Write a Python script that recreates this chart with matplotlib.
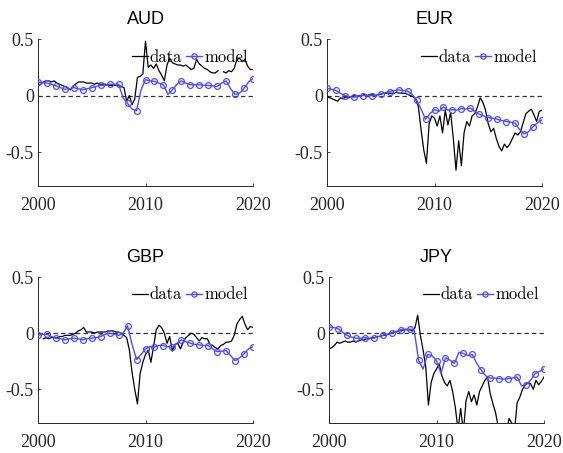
import numpy as np
import matplotlib
matplotlib.use("Agg")
import matplotlib.pyplot as plt

plt.rcParams['axes.unicode_minus'] = False

# quarterly data, 2000.00 .. 2020.00
t_data = 2000 + np.arange(81) * 0.25
# model, every 5 months, marker on every second point
t_model = 2000 + np.arange(49) * 5 / 12.0

nan = np.nan

aud_data = [0.08, 0.10, 0.12, 0.13, 0.13, 0.12, 0.13, 0.11, 0.10, 0.09,
            0.08, 0.07, 0.05, 0.08, 0.10, 0.12, 0.12, 0.12, 0.11, 0.11,
            0.11, 0.10, 0.11, 0.10, 0.10, 0.10, 0.09, 0.09, 0.09, 0.09,
            0.09, 0.08, 0.07, -0.05, 0.00, -0.08, -0.03, 0.16, 0.17, 0.19,
            0.48, 0.25, 0.27, 0.24, 0.28, 0.22, 0.18, 0.13, 0.27, 0.33,
            0.29, 0.28, 0.27, 0.27, 0.26, 0.27, 0.25, 0.23, 0.24, 0.32,
            0.28, 0.26, 0.24, 0.23, 0.21, 0.20, 0.20, 0.22, nan, 0.21,
            0.20, 0.22, 0.21, 0.24, 0.32, 0.33, 0.30, 0.32, 0.26, 0.23,
            0.23]
aud_model = [0.12, 0.115, 0.11, 0.10, 0.085, 0.07, 0.055, 0.06, 0.07, 0.06,
             0.05, 0.06, 0.07, 0.08, 0.09, 0.09, 0.10, 0.10, 0.10, -0.02,
             -0.07, -0.12, -0.135, 0.05, 0.14, 0.13, 0.125, 0.11, 0.095, 0.01,
             0.05, 0.10, 0.13, 0.11, 0.095, 0.095, 0.095, 0.09, 0.09, 0.085,
             0.08, 0.11, 0.13, 0.06, 0.01, 0.02, 0.065, 0.12, 0.15]

eur_data = [-0.01, -0.02, -0.03, -0.04, -0.05, -0.02, -0.03, -0.01, -0.02, -0.01,
            0.00, -0.01, 0.00, 0.00, 0.01, 0.00, 0.01, 0.01, 0.00, 0.01,
            0.01, 0.02, 0.02, 0.02, 0.02, 0.02, 0.03, 0.02, 0.02, 0.02,
            0.01, 0.00, -0.01, -0.03, -0.10, -0.30, -0.48, -0.60, -0.25, -0.18,
            -0.20, -0.27, -0.18, -0.33, -0.13, -0.26, -0.15, -0.38, -0.66, -0.40,
            -0.62, -0.33, -0.23, -0.27, -0.18, -0.16, -0.10, -0.02, -0.06, -0.13,
            -0.25, -0.32, -0.29, -0.38, -0.45, -0.49, -0.43, -0.46, -0.43, -0.38,
            -0.33, -0.35, -0.32, -0.24, -0.16, -0.14, -0.12, -0.17, -0.23, -0.14,
            -0.13]
eur_model = [0.065, 0.055, 0.045, 0.02, 0.0, -0.01, -0.015, -0.005, 0.0, 0.0,
             0.0, 0.005, 0.015, 0.025, 0.035, 0.045, 0.05, 0.045, 0.04, 0.01,
             -0.04, -0.12, -0.21, -0.16, -0.125, -0.14, -0.10, -0.13, -0.125, -0.13,
             -0.115, -0.12, -0.11, -0.14, -0.165, -0.18, -0.195, -0.20, -0.21, -0.22,
             -0.23, -0.235, -0.245, -0.30, -0.34, -0.32, -0.275, -0.24, -0.215]

gbp_data = [nan, nan, -0.05, -0.04, -0.05, -0.04, -0.04, -0.04, -0.03, -0.03,
            -0.02, -0.02, -0.02, -0.01, 0.00, 0.02, 0.03, 0.05, 0.01, 0.01,
            0.01, 0.00, 0.01, 0.01, 0.01, 0.01, 0.02, 0.02, 0.02, 0.01,
            0.01, 0.00, -0.02, -0.04, -0.15, -0.35, -0.50, -0.63, -0.36, -0.26,
            -0.19, -0.15, -0.26, -0.12, 0.03, 0.07, 0.05, 0.00, -0.09, -0.03,
            -0.16, -0.10, -0.09, -0.14, -0.08, -0.04, -0.02, 0.00, -0.01, -0.04,
            -0.07, -0.04, -0.05, -0.05, -0.10, -0.11, -0.13, -0.14, -0.11, -0.10,
            -0.08, -0.08, -0.07, -0.02, 0.08, 0.12, 0.15, 0.08, 0.03, 0.06,
            0.05]
gbp_model = [-0.02, -0.01, -0.01, -0.03, -0.045, -0.05, -0.06, -0.05, -0.045, -0.05,
             -0.06, -0.05, -0.045, -0.04, -0.03, -0.01, 0.0, -0.01, -0.02, 0.0,
             0.065, -0.10, -0.235, -0.19, -0.14, -0.12, -0.125, -0.11, -0.11, -0.12,
             -0.125, -0.09, -0.06, -0.075, -0.09, -0.10, -0.105, -0.11, -0.11, -0.14,
             -0.165, -0.16, -0.155, -0.20, -0.245, -0.22, -0.185, -0.14, -0.12]

jpy_data = [-0.14, -0.13, -0.11, -0.08, -0.09, -0.08, -0.07, -0.08, -0.08, -0.07,
            -0.08, -0.07, -0.06, -0.06, -0.05, -0.05, -0.04, -0.04, -0.03, -0.03,
            -0.02, -0.02, -0.01, 0.00, 0.01, 0.01, 0.02, 0.02, 0.03, 0.03,
            0.03, 0.02, 0.05, 0.16, -0.02, -0.15, -0.30, -0.64, -0.44, -0.36,
            -0.32, -0.27, -0.38, -0.44, -0.47, -0.42, -0.52, -0.66, -0.86, -0.67,
            -0.88, -0.60, -0.52, -0.61, -0.55, -0.64, -0.52, -0.47, -0.42, -0.39,
            -0.54, -0.63, -0.71, -0.84, -0.92, -0.95, -0.88, -0.76, -0.80, -0.88,
            -0.62, -0.57, -0.50, -0.46, -0.44, -0.45, -0.50, -0.42, -0.46, -0.43,
            -0.39]
jpy_model = [0.055, 0.05, 0.04, 0.01, -0.02, -0.035, -0.045, -0.045, -0.04, -0.045,
             -0.045, -0.03, -0.02, -0.01, 0.0, 0.015, 0.03, 0.035, 0.035, 0.03,
             -0.24, -0.32, -0.19, -0.20, -0.245, -0.36, -0.22, -0.24, -0.27, -0.17,
             -0.18, -0.20, -0.19, -0.27, -0.33, -0.38, -0.40, -0.40, -0.405, -0.41,
             -0.405, -0.40, -0.39, -0.47, -0.46, -0.42, -0.36, -0.34, -0.32]

names = ['AUD', 'EUR', 'GBP', 'JPY']
data = [aud_data, eur_data, gbp_data, jpy_data]
model = [aud_model, eur_model, gbp_model, jpy_model]

W, H = 563, 453
fig = plt.figure(figsize=(W / 100, H / 100), dpi=100)

# axes boxes in pixels: x0, x1, ytop, ybottom
boxes = [(38, 253, 39, 186), (327, 542, 39, 186),
         (38, 253, 277, 423), (329, 544, 277, 423)]

blue = '#4d4dff'
for i in range(4):
    x0, x1, yt, yb = boxes[i]
    ax = fig.add_axes([x0 / W, 1 - yb / H, (x1 - x0) / W, (yb - yt) / H])
    ax.axhline(0, color='#333333', ls=(0, (3.5, 2.5)), lw=0.9, zorder=1)
    ax.plot(t_data, data[i], color='black', lw=0.9, label='data', zorder=2)
    ax.plot(t_model, model[i], color=blue, lw=1.0, marker='o', markevery=2,
            ms=4.2, mfc='none', mew=0.9, label='model', zorder=3)
    ax.set_xlim(2000, 2020)
    ax.set_ylim(-0.8, 0.5)
    ax.set_xticks([2000, 2010, 2020])
    ax.set_yticks([-0.5, 0, 0.5])
    ax.set_yticklabels(['-0.5', '0', '0.5'])
    for s in ['top', 'right']:
        ax.spines[s].set_visible(False)
    for s in ['left', 'bottom']:
        ax.spines[s].set_color('#262626')
        ax.spines[s].set_linewidth(0.7)
    ax.tick_params(direction='in', length=2.5, width=0.6, color='#262626')
    ax.tick_params(axis='x', pad=8)
    ax.tick_params(axis='y', pad=3)
    for lab in ax.get_xticklabels() + ax.get_yticklabels():
        lab.set_fontfamily('Liberation Serif')
        lab.set_fontsize(13)
        lab.set_color('#262626')
    ax.set_title(names[i], family='Liberation Sans', fontsize=13, pad=11)
    ax.legend(loc='center right', bbox_to_anchor=(0.975, 0.878), ncol=2,
              frameon=False, prop={'family': 'cmr10', 'size': 12},
              handlelength=0.95, handletextpad=0.12, columnspacing=0.25,
              borderpad=0, borderaxespad=0, markerscale=0.9)

fig.savefig('out.png', dpi=100)
